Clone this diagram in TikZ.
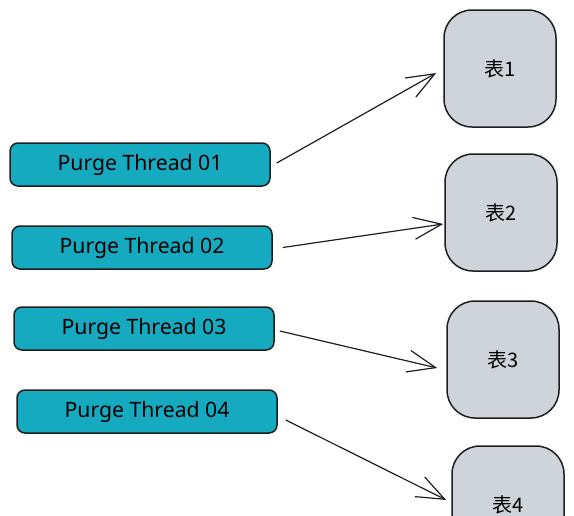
\documentclass[tikz,border=0pt]{standalone}
\usepackage{fontspec}
\setmainfont{Noto Sans}
\newfontfamily\cjk{Noto Sans CJK SC}
\usetikzlibrary{arrows.meta}
\definecolor{threadcyan}{HTML}{15AABF}
\definecolor{tablegray}{HTML}{CED4DA}
\definecolor{ink}{HTML}{1E1E1E}
\tikzset{
  thread/.style={draw=ink, fill=threadcyan, line width=0.75pt, rounded corners=4pt,
    minimum width=130pt, minimum height=21.5pt, inner sep=0pt, font=\fontsize{10.6}{12}\selectfont},
  tablebox/.style={draw=ink, fill=tablegray, line width=0.75pt, rounded corners=14pt,
    minimum width=56pt, minimum height=58.5pt, inner sep=0pt, font=\cjk\fontsize{10}{12}\selectfont},
  link/.style={draw=ink, line width=0.6pt,
    -{Straight Barb[length=14pt,width=11pt,line width=0.6pt]}}
}
\begin{document}
\begin{tikzpicture}[x=0.5pt, y=-0.5pt]
    \clip (0,0) rectangle (574,515);
    \useasboundingbox (0,0) rectangle (574,515);

    \node[thread] at (140,164.5) (T1) {Purge Thread 01};
    \node[thread] at (142,247.5) (T2) {Purge Thread 02};
    \node[thread] at (144,328.5) (T3) {Purge Thread 03};
    \node[thread] at (147,411.5) (T4) {Purge Thread 04};

    \node[tablebox] at (500,68.5) (B1) {表1};
    \node[tablebox] at (501,212.5) (B2) {表2};
    \node[tablebox] at (503,359.5) (B3) {表3};
    \node[tablebox] at (508,504.5) (B4) {表4};

    \draw[link] ([shift={(6,-1.5)}]T1.east) -- ([shift={(-7,4.5)}]B1.west);
    \draw[link] ([shift={(10,0)}]T2.east) -- ([shift={(-1,11.5)}]B2.west);
    \draw[link] ([shift={(5,2.5)}]T3.east) -- ([shift={(-9,8.5)}]B3.west);
    \draw[link] ([shift={(8,8.5)}]T4.east) -- ([shift={(-5,-4.5)}]B4.west);
  \end{tikzpicture}
\end{document}
